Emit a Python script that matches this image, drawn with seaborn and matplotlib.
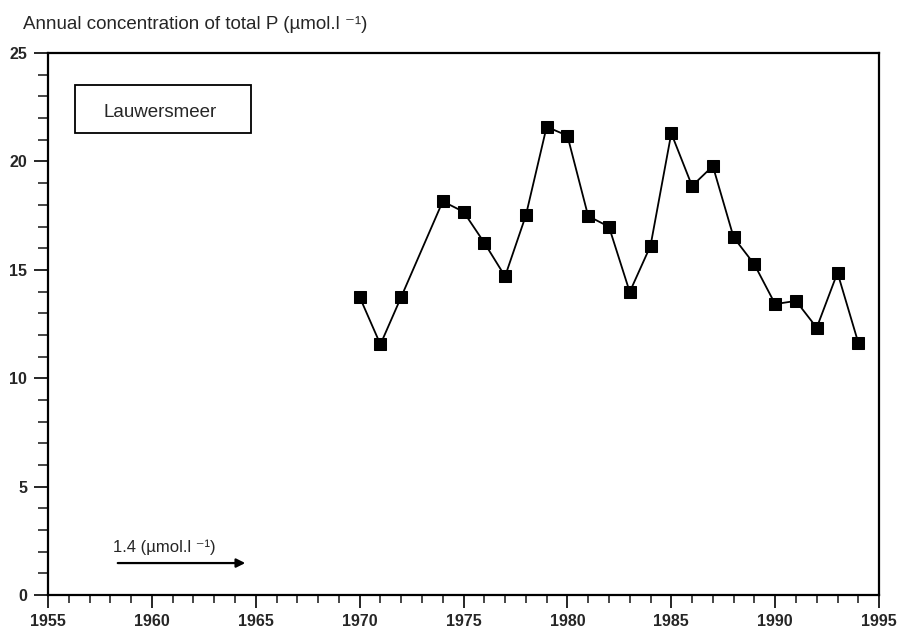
import matplotlib
matplotlib.use("Agg")
import matplotlib.pyplot as plt
from matplotlib.patches import Rectangle
from matplotlib.ticker import MultipleLocator
import seaborn as sns
import pandas as pd

# annual total P, Lauwersmeer
years = [1970, 1971, 1972, 1974, 1975, 1976, 1977, 1978, 1979, 1980, 1981, 1982,
         1983, 1984, 1985, 1986, 1987, 1988, 1989, 1990, 1991, 1992, 1993, 1994]
total_p = [13.75, 11.56, 13.75, 18.16, 17.68, 16.25, 14.7, 17.51, 21.6, 21.19, 17.48, 16.99,
           13.98, 16.11, 21.3, 18.87, 19.79, 16.5, 15.25, 13.42, 13.57, 12.33, 14.87, 11.64]
x_ticks = [1955, 1960, 1965, 1970, 1975, 1980, 1985, 1990, 1995]
y_ticks = [0, 5, 10, 15, 20, 25]

df = pd.DataFrame({"year": years, "p": total_p})

sns.set_style("ticks")
plt.rcParams["font.family"] = ["Liberation Sans", "DejaVu Sans"]

fig = plt.figure(figsize=(8.97, 6.32), dpi=100)
ax = fig.add_axes([0.0535, 0.0585, 0.9265, 0.8575])

sns.lineplot(data=df, x="year", y="p", ax=ax, color="black", linewidth=1.3,
             marker="s", markersize=9.3, markeredgecolor="black", markerfacecolor="black")

ax.set_xlim(1955, 1995)
ax.set_ylim(0, 25)
ax.set_xticks(x_ticks)
ax.set_yticks(y_ticks)
ax.xaxis.set_minor_locator(MultipleLocator(1))
ax.yaxis.set_minor_locator(MultipleLocator(1))
ax.tick_params(axis="x", which="major", length=9.5, width=1.4, labelsize=11.5, pad=4)
ax.tick_params(axis="x", which="minor", length=6, width=1.2)
ax.tick_params(axis="y", which="major", length=10, width=1.4, labelsize=11.5, pad=5)
ax.tick_params(axis="y", which="minor", length=7, width=1.2)
for lbl in ax.get_xticklabels() + ax.get_yticklabels():
    lbl.set_fontweight("bold")
ax.set_xlabel("")
ax.set_ylabel("")
for s in ax.spines.values():
    s.set_linewidth(1.6)
    s.set_color("black")

fig.text(0.0256, 0.962, "Annual concentration of total P (\u00b5mol.l \u207b\u00b9)",
         fontsize=13.5, ha="left", va="center")

# label box
ax.add_patch(Rectangle((0.0325, 0.8524), 0.2118, 0.0886, transform=ax.transAxes,
                       fill=False, ec="black", lw=1.3, zorder=3))
ax.text(0.1348, 0.891, "Lauwersmeer", transform=ax.transAxes, fontsize=13.5,
        ha="center", va="center")

# scale arrow
ax.annotate("", xy=(0.2407, 0.059), xytext=(0.0806, 0.059), xycoords="axes fraction",
            arrowprops=dict(arrowstyle="-|>", color="black", lw=1.6, mutation_scale=13))
ax.text(0.078, 0.0886, "1.4 (\u00b5mol.l \u207b\u00b9)", transform=ax.transAxes,
        fontsize=12, ha="left", va="center")

fig.savefig("out.png", dpi=100, facecolor="white")
